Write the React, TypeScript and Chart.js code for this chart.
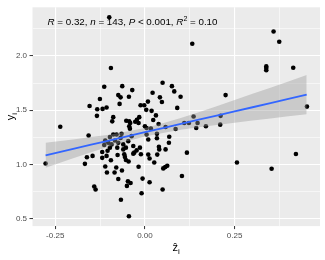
import React, { useEffect, useRef } from 'react';
import { Chart, registerables } from 'chart.js';

Chart.register(...registerables);

// observed points: predicted z (x) and y
const zHat = [
  -0.0994, 0.132, 0.3587, 0.3745, 0.3383, 0.3383, 0.3383, 0.4135, -0.0948, 0.2249,
  0.4517, 0.421, 0.3532, 0.2565, 0.1032, 0.1171, 0.211, 0.21, 0.17, 0.1097,
  0.1227, 0.1357, 0.1468, 0.1431, 0.0493, 0.0753, 0.0818, 0.0994, 0.0214, 0.0418,
  0.0474, 0.0901, 0.0186, 0.0307, 0.0381, 0.0167, 0.0576, 0.0855, 0.0335, 0.0335,
  0.0678, 0.0669, 0.039, 0.04, 0.0576, 0.0344, 0.026, 0.0511, 0.0567, 0.0623,
  0.0493, 0.013, -0.0093, -0.0065, -0.0177, 0.0093, -0.0112, -0.0325, -0.0297, -0.0455,
  -0.0474, -0.04, -0.0502, -0.0446, -0.0669, -0.0743, -0.0641, -0.0846, -0.0799, -0.1059,
  -0.1106, -0.0948, -0.0762, -0.0576, -0.0558, -0.053, -0.0604, -0.119, -0.1041, -0.1069,
  -0.119, -0.1459, -0.1617, -0.1673, -0.1413, -0.1375, -0.277, -0.236, -0.157, -0.1543,
  -0.1255, -0.1134, -0.1329, -0.118, -0.1069, -0.1338, -0.0632, -0.0353, -0.0743, -0.0678,
  -0.0446, -0.0706, -0.0121, -0.0019, 0.0084, 0.0037, -0.0883, -0.0911, -0.052, -0.0437,
  -0.0409, -0.027, -0.0223, -0.0158, -0.0177, -0.0437, -0.0418, 0.0, 0.0046, -0.079,
  0.0046, 0.0093, 0.0232, 0.013, -0.0976, -0.0883, -0.1134, -0.1022, -0.0929, -0.0836,
  -0.0743, -0.0678, -0.0604, -0.053, -0.0465, -0.0325, -0.0232, -0.0139, -0.0771, -0.0372,
  -0.0976, -0.0651, -0.1106,
];
const yObs = [
  2.355, 2.112, 2.224, 2.13, 1.903, 1.888, 1.867, 1.891, 1.888, 1.639,
  1.533, 1.097, 0.961, 1.018, 0.894, 1.109, 1.448, 1.367, 1.352, 1.382,
  1.382, 1.442, 1.382, 1.336, 1.752, 1.721, 1.673, 1.624, 1.661, 1.618,
  1.576, 1.521, 1.494, 1.452, 1.373, 1.33, 1.345, 1.327, 1.282, 1.242,
  1.255, 1.2, 1.164, 1.139, 1.139, 1.091, 1.018, 0.964, 0.976, 0.988,
  0.77, 0.836, 0.736, 0.87, 0.979, 1.091, 1.094, 1.1, 1.109, 1.027,
  0.845, 0.83, 0.803, 0.524, 0.676, 0.867, 0.945, 0.927, 0.973, 0.927,
  0.982, 1.039, 1.088, 1.094, 1.07, 1.042, 1.139, 1.115, 1.127, 1.079,
  1.061, 1.079, 1.067, 1.006, 0.797, 0.77, 1.009, 1.348, 1.267, 1.539,
  1.603, 1.715, 1.509, 1.512, 1.524, 1.448, 1.721, 1.685, 1.639, 1.618,
  1.624, 1.558, 1.545, 1.545, 1.579, 1.503, 1.436, 1.397, 1.403, 1.397,
  1.382, 1.394, 1.412, 1.436, 1.382, 1.352, 1.33, 1.352, 1.336, 1.276,
  1.276, 1.23, 1.409, 1.055, 1.252, 1.276, 1.179, 1.2, 1.185, 1.221,
  1.2, 1.245, 1.185, 1.155, 1.215, 1.17, 1.13, 1.155, 1.155, 1.261,
  1.155, 1.282, 1.221,
];

// fitted line and 95% confidence band, read along x
const fitX = [-0.277, -0.2, -0.15, -0.1, -0.05, 0, 0.05, 0.1, 0.15, 0.2, 0.25, 0.3, 0.35, 0.4, 0.451];
const fitY = [1.085, 1.144, 1.182, 1.22, 1.259, 1.297, 1.335, 1.374, 1.412, 1.45, 1.489, 1.527, 1.565, 1.604, 1.643];
const bandLo = [0.97, 1.057, 1.112, 1.165, 1.215, 1.258, 1.291, 1.319, 1.342, 1.363, 1.384, 1.404, 1.423, 1.443, 1.463];
const bandHi = [1.2, 1.231, 1.252, 1.275, 1.303, 1.336, 1.379, 1.429, 1.482, 1.537, 1.594, 1.651, 1.707, 1.765, 1.823];

// axes
const xMajor = [-0.25, 0, 0.25];
const xMajorLabels = ['-0.25', '0.00', '0.25'];
const xMinor = [-0.125, 0.125, 0.375];
const yMajor = [0.5, 1, 1.5, 2];
const yMajorLabels = ['0.5', '1.0', '1.5', '2.0'];
const yMinor = [0.75, 1.25, 1.75, 2.25];
const xLimits = [-0.3134, 0.4881];
const yLimits = [0.433, 2.447];

const statLabel = [
  { t: 'R', it: true },
  { t: ' = 0.32, ' },
  { t: 'n', it: true },
  { t: ' = 143, ' },
  { t: 'P', it: true },
  { t: ' < 0.001, ' },
  { t: 'R', it: true },
  { t: '2', sup: true },
  { t: ' = 0.10' },
];

const FONT = '"Liberation Sans", Arial, sans-serif';

const isIn = (arr: number[], v: number) => arr.some((a) => Math.abs(a - v) < 1e-9);

export default function App() {
  const ref = useRef<HTMLCanvasElement | null>(null);

  useEffect(() => {
    if (!ref.current) return;

    const panelPlugin = {
      id: 'panel',
      beforeDraw(chart: any) {
        const { ctx, chartArea: a } = chart;
        ctx.save();
        ctx.fillStyle = '#EBEBEB';
        ctx.fillRect(a.left, a.top, a.right - a.left, a.bottom - a.top);
        ctx.restore();
      },
      afterDraw(chart: any) {
        const { ctx, chartArea: a } = chart;
        ctx.save();
        // stat label
        let x = 47.5;
        const y = 22.7;
        ctx.fillStyle = '#000';
        ctx.textBaseline = 'middle';
        ctx.textAlign = 'left';
        for (const s of statLabel) {
          if (s.sup) {
            ctx.font = `7px ${FONT}`;
            ctx.fillText(s.t, x, y - 4);
          } else {
            ctx.font = `${s.it ? 'italic ' : ''}9.8px ${FONT}`;
            ctx.fillText(s.t, x, y);
          }
          x += ctx.measureText(s.t).width;
        }
        // x title: z hat with subscript i
        const cx = (a.left + a.right) / 2;
        ctx.textBaseline = 'alphabetic';
        ctx.font = `11px ${FONT}`;
        const wz = ctx.measureText('ẑ').width;
        ctx.font = `8px ${FONT}`;
        const wi = ctx.measureText('i').width;
        const x0 = cx - (wz + wi) / 2;
        ctx.font = `11px ${FONT}`;
        ctx.fillText('ẑ', x0, 251);
        ctx.font = `8px ${FONT}`;
        ctx.fillText('i', x0 + wz, 253.5);
        // y title
        const cy = (a.top + a.bottom) / 2;
        ctx.translate(14, cy);
        ctx.rotate(-Math.PI / 2);
        ctx.font = `11px ${FONT}`;
        const wy = ctx.measureText('y').width;
        const y0 = -(wy + wi) / 2;
        ctx.fillText('y', y0, 0);
        ctx.font = `8px ${FONT}`;
        ctx.fillText('i', y0 + wy, 2.5);
        ctx.restore();
      },
    };

    const gridFor = (major: number[]) => ({
      color: '#FFFFFF',
      lineWidth: (c: any) => (c.tick && isIn(major, c.tick.value) ? 1.1 : 0.55),
      tickColor: (c: any) => (c.tick && isIn(major, c.tick.value) ? '#333333' : 'rgba(0,0,0,0)'),
      tickWidth: 1,
      tickLength: 3,
      drawTicks: true,
    });

    const chart = new Chart(ref.current, {
      type: 'scatter',
      data: {
        datasets: [
          {
            type: 'line',
            data: fitX.map((x, i) => ({ x, y: fitY[i] })),
            borderColor: '#3366FF',
            borderWidth: 1.8,
            pointRadius: 0,
            fill: false,
            order: 0,
          } as any,
          {
            type: 'line',
            data: fitX.map((x, i) => ({ x, y: bandHi[i] })),
            borderWidth: 0,
            borderColor: 'rgba(0,0,0,0)',
            backgroundColor: 'rgba(153,153,153,0.4)',
            pointRadius: 0,
            fill: '+1',
            order: 1,
          },
          {
            type: 'line',
            data: fitX.map((x, i) => ({ x, y: bandLo[i] })),
            borderWidth: 0,
            borderColor: 'rgba(0,0,0,0)',
            pointRadius: 0,
            fill: false,
            order: 2,
          },
          {
            type: 'scatter',
            data: zHat.map((x, i) => ({ x, y: yObs[i] })),
            backgroundColor: '#000000',
            borderWidth: 0,
            pointRadius: 2.3,
            order: 3,
          },
        ],
      },
      options: {
        animation: false,
        responsive: false,
        devicePixelRatio: 1,
        layout: { padding: { left: 0, right: 5, top: 4.5, bottom: 0 } },
        plugins: { legend: { display: false }, tooltip: { enabled: false } },
        scales: {
          x: {
            type: 'linear',
            min: xLimits[0],
            max: xLimits[1],
            border: { display: false },
            grid: gridFor(xMajor) as any,
            afterBuildTicks: (s: any) => {
              s.ticks = [...xMajor, ...xMinor].sort((p, q) => p - q).map((v) => ({ value: v }));
            },
            afterFit: (s: any) => {
              s.height = 33.9;
            },
            ticks: {
              autoSkip: false,
              maxRotation: 0,
              padding: 2,
              color: '#4D4D4D',
              font: { family: FONT, size: 8 },
              callback: (v: any) => {
                const i = xMajor.findIndex((m) => Math.abs(m - v) < 1e-9);
                return i >= 0 ? xMajorLabels[i] : '';
              },
            },
          },
          y: {
            type: 'linear',
            min: yLimits[0],
            max: yLimits[1],
            border: { display: false },
            grid: gridFor(yMajor) as any,
            afterBuildTicks: (s: any) => {
              s.ticks = [...yMajor, ...yMinor].sort((p, q) => p - q).map((v) => ({ value: v }));
            },
            afterFit: (s: any) => {
              s.width = 32.5;
            },
            ticks: {
              autoSkip: false,
              padding: 2.5,
              color: '#4D4D4D',
              font: { family: FONT, size: 8 },
              callback: (v: any) => {
                const i = yMajor.findIndex((m) => Math.abs(m - v) < 1e-9);
                return i >= 0 ? yMajorLabels[i] : '';
              },
            },
          },
        },
      },
      plugins: [panelPlugin],
    });

    return () => chart.destroy();
  }, []);

  return (
    <div style={{ position: 'fixed', left: 0, top: 0, width: 325, height: 260, background: '#fff' }}>
      <canvas ref={ref} width={325} height={260} style={{ display: 'block' }} />
    </div>
  );
}
